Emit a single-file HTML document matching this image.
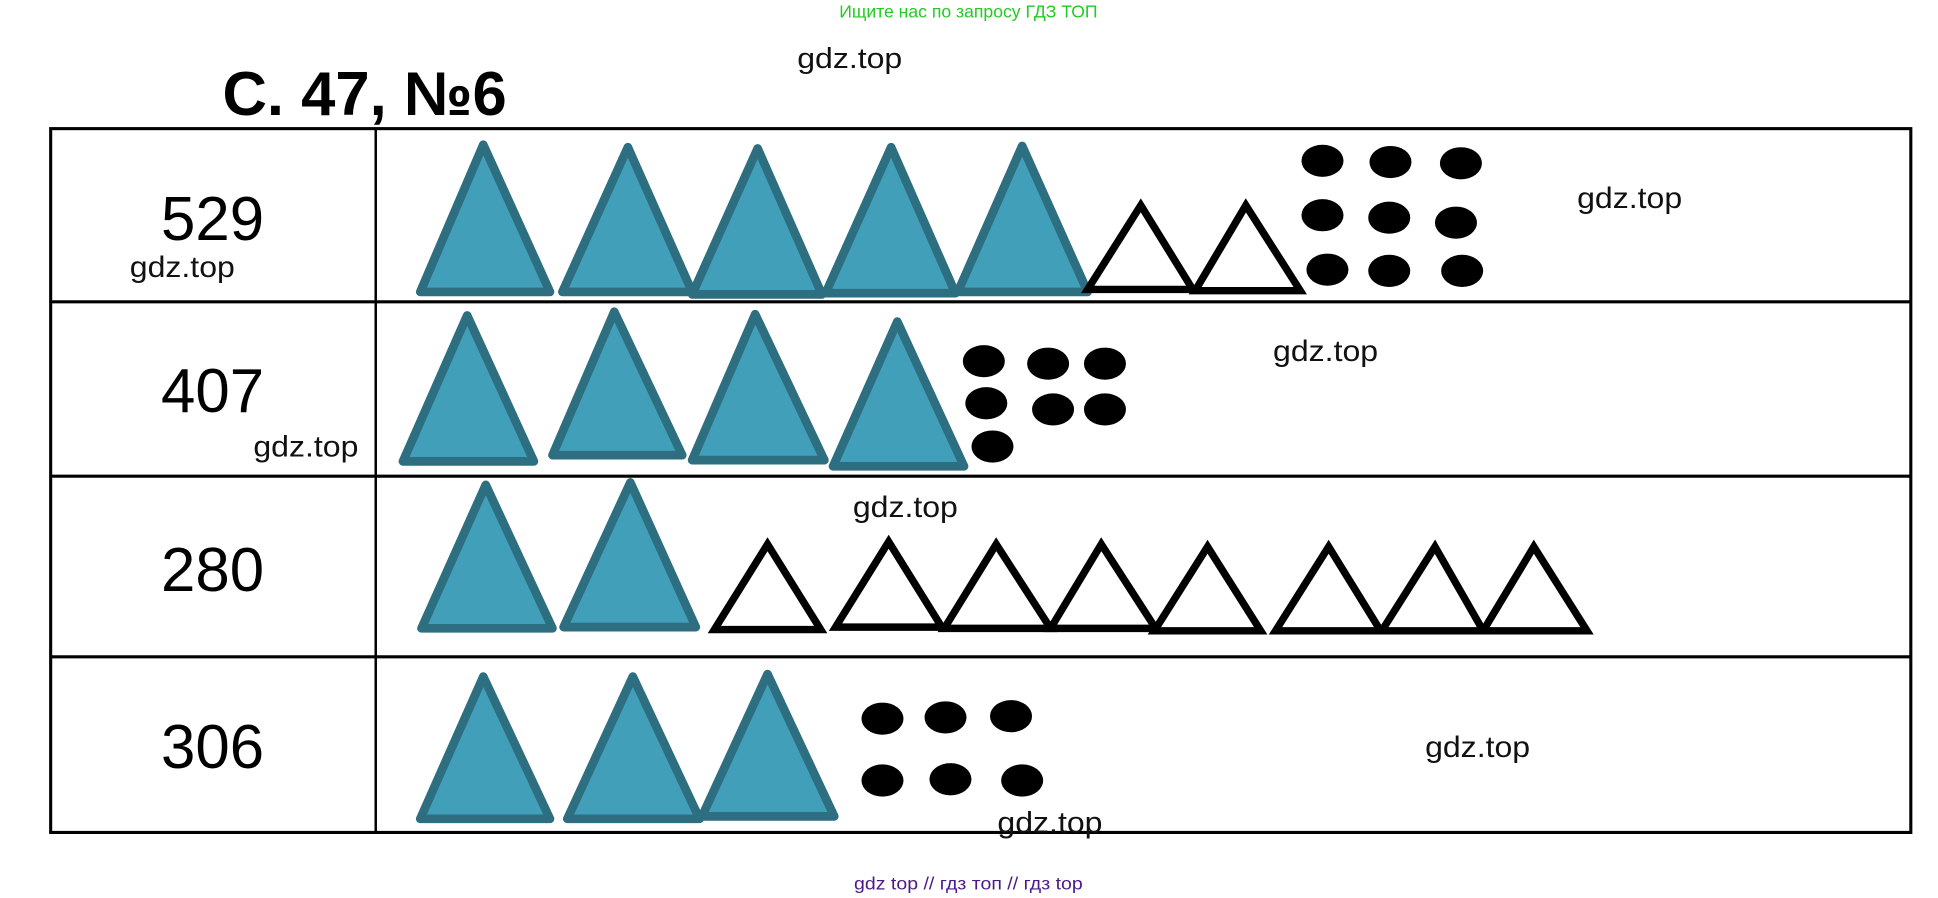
<!DOCTYPE html>
<html><head><meta charset="utf-8"><style>
html,body{margin:0;padding:0;background:#fff;}
svg{display:block}
</style></head><body>
<svg width="1938" height="898" viewBox="0 0 1568 726" preserveAspectRatio="none" xmlns="http://www.w3.org/2000/svg">
<rect width="1568" height="726" fill="#fff"/>
<text x="679" y="14" textLength="209" lengthAdjust="spacingAndGlyphs" font-family="Liberation Sans, sans-serif" font-size="14" fill="#22cc22">Ищите нас по запросу ГДЗ ТОП</text>
<text x="645" y="55" textLength="85" lengthAdjust="spacingAndGlyphs" font-family="Liberation Sans, sans-serif" font-size="23" fill="#111">gdz.top</text>
<text x="180" y="93" font-family="Liberation Sans, sans-serif" font-weight="bold" font-size="50" textLength="230" lengthAdjust="spacingAndGlyphs" fill="#000">С. 47, №6</text>
<g stroke="#000" stroke-width="2.5" fill="none">
<rect x="41" y="104" width="1505" height="569"/>
<line x1="41" y1="244" x2="1546" y2="244"/>
<line x1="41" y1="385" x2="1546" y2="385"/>
<line x1="41" y1="531" x2="1546" y2="531"/>
<line x1="304" y1="104" x2="304" y2="673" stroke-width="2"/>
</g>
<g font-family="Liberation Sans, sans-serif" font-size="50" text-anchor="middle" fill="#000">
<text x="172" y="194">529</text>
<text x="172" y="333">407</text>
<text x="172" y="478">280</text>
<text x="172" y="621">306</text>
</g>
<g fill="#419fba" stroke="#2d6e80" stroke-width="7" stroke-linejoin="round">
<polygon points="391,117 340,236 445,236"/>
<polygon points="508,119 455,236 560,236"/>
<polygon points="613,120 560,238 665,238"/>
<polygon points="721,119 668,237 773,237"/>
<polygon points="827,118 775,236 880,236"/>
<polygon points="378,255 326,373 432,373"/>
<polygon points="497,252 447,368 552,368"/>
<polygon points="611,254 560,372 667,372"/>
<polygon points="726,260 674,377 780,377"/>
<polygon points="393,392 341,508 447,508"/>
<polygon points="510,390 456,507 563,507"/>
<polygon points="391,547 340,662 445,662"/>
<polygon points="512,547 459,662 566,662"/>
<polygon points="621,545 568,660 675,660"/>
</g>
<g fill="none" stroke="#000" stroke-width="6" stroke-linejoin="miter">
<polygon points="923,166 880,234 965,234"/>
<polygon points="1008,166 967,235 1052,235"/>
<polygon points="621,440 578,509 664,509"/>
<polygon points="719,438 676,507 762,507"/>
<polygon points="806,440 764,508 850,508"/>
<polygon points="891,440 850,508 935,508"/>
<polygon points="977,442 934,510 1020,510"/>
<polygon points="1075,442 1032,510 1117,510"/>
<polygon points="1161,442 1118,510 1200,510"/>
<polygon points="1241,442 1200,510 1284,510"/>
</g>
<g fill="#000">
<ellipse cx="1070" cy="130" rx="17" ry="13"/><ellipse cx="1125" cy="131" rx="17" ry="13"/><ellipse cx="1182" cy="132" rx="17" ry="13"/>
<ellipse cx="1070" cy="174" rx="17" ry="13"/><ellipse cx="1124" cy="176" rx="17" ry="13"/><ellipse cx="1178" cy="180" rx="17" ry="13"/>
<ellipse cx="1074" cy="218" rx="17" ry="13"/><ellipse cx="1124" cy="219" rx="17" ry="13"/><ellipse cx="1183" cy="219" rx="17" ry="13"/>
<ellipse cx="796" cy="292" rx="17" ry="13"/><ellipse cx="848" cy="294" rx="17" ry="13"/><ellipse cx="894" cy="294" rx="17" ry="13"/>
<ellipse cx="798" cy="326" rx="17" ry="13"/><ellipse cx="852" cy="331" rx="17" ry="13"/><ellipse cx="894" cy="331" rx="17" ry="13"/>
<ellipse cx="803" cy="361" rx="17" ry="13"/>
<ellipse cx="714" cy="581" rx="17" ry="13"/><ellipse cx="765" cy="580" rx="17" ry="13"/><ellipse cx="818" cy="579" rx="17" ry="13"/>
<ellipse cx="714" cy="631" rx="17" ry="13"/><ellipse cx="769" cy="630" rx="17" ry="13"/><ellipse cx="827" cy="631" rx="17" ry="13"/>
</g>
<g font-family="Liberation Sans, sans-serif" font-size="24" fill="#111">
<text x="105" y="224" textLength="85" lengthAdjust="spacingAndGlyphs">gdz.top</text>
<text x="205" y="369" textLength="85" lengthAdjust="spacingAndGlyphs">gdz.top</text>
<text x="1030" y="292" textLength="85" lengthAdjust="spacingAndGlyphs">gdz.top</text>
<text x="1276" y="168" textLength="85" lengthAdjust="spacingAndGlyphs">gdz.top</text>
<text x="690" y="418" textLength="85" lengthAdjust="spacingAndGlyphs">gdz.top</text>
<text x="1153" y="612" textLength="85" lengthAdjust="spacingAndGlyphs">gdz.top</text>
<text x="807" y="673" textLength="85" lengthAdjust="spacingAndGlyphs">gdz.top</text>
</g>
<text x="691" y="719" textLength="185" lengthAdjust="spacingAndGlyphs" font-family="Liberation Sans, sans-serif" font-size="14" fill="#4b1a8a">gdz top  //  гдз топ  //  гдз top</text>
</svg>
</body></html>
